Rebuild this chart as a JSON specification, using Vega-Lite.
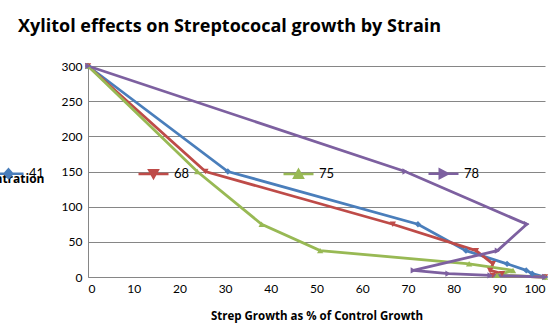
{
  "$schema": "https://vega.github.io/schema/vega-lite/v6.json",
  "width": 457,
  "height": 211,
  "autosize": {"type": "none"},
  "padding": {"left": 88, "top": 66, "right": 14, "bottom": 52},
  "background": "white",
  "config": {
    "font": "Lato",
    "view": {"stroke": null},
    "axis": {"labelFont": "Lato", "titleFont": "Open Sans", "labelColor": "#000", "titleColor": "#000"}
  },
  "title": {
    "text": "Xylitol effects on Streptococal growth by Strain",
    "anchor": "start",
    "frame": "group",
    "dx": -70,
    "baseline": "alphabetic",
    "offset": 10,
    "fontSize": 18,
    "fontWeight": "bold",
    "font": "Open Sans",
    "color": "#000"
  },
  "data": {
    "values": [
      {"s": "41", "i": 0, "x": 0, "y": 300},
      {"s": "41", "i": 1, "x": 30.6, "y": 150},
      {"s": "41", "i": 2, "x": 72.2, "y": 75},
      {"s": "41", "i": 3, "x": 82.7, "y": 37.5},
      {"s": "41", "i": 4, "x": 91.7, "y": 18.75},
      {"s": "41", "i": 5, "x": 95.9, "y": 9.4},
      {"s": "41", "i": 6, "x": 97.2, "y": 4.7},
      {"s": "41", "i": 7, "x": 100, "y": 0},
      {"s": "68", "i": 0, "x": 0, "y": 300},
      {"s": "68", "i": 1, "x": 25.7, "y": 150},
      {"s": "68", "i": 2, "x": 66.7, "y": 75},
      {"s": "68", "i": 3, "x": 84.9, "y": 37.5},
      {"s": "68", "i": 4, "x": 88.6, "y": 18.75},
      {"s": "68", "i": 5, "x": 88, "y": 9.4},
      {"s": "68", "i": 6, "x": 90.6, "y": 4.7},
      {"s": "68", "i": 7, "x": 88.5, "y": 2.3},
      {"s": "68", "i": 8, "x": 100, "y": 0},
      {"s": "75", "i": 0, "x": 0, "y": 300},
      {"s": "75", "i": 1, "x": 23.9, "y": 150},
      {"s": "75", "i": 2, "x": 38, "y": 75},
      {"s": "75", "i": 3, "x": 50.8, "y": 37.5},
      {"s": "75", "i": 4, "x": 83.4, "y": 18.75},
      {"s": "75", "i": 5, "x": 93, "y": 9.4},
      {"s": "75", "i": 6, "x": 89.5, "y": 2.3},
      {"s": "75", "i": 7, "x": 100, "y": 0},
      {"s": "78", "i": 0, "x": 0, "y": 300},
      {"s": "78", "i": 1, "x": 69.4, "y": 150},
      {"s": "78", "i": 2, "x": 96, "y": 75},
      {"s": "78", "i": 3, "x": 89.6, "y": 37.5},
      {"s": "78", "i": 4, "x": 71.2, "y": 9.4},
      {"s": "78", "i": 5, "x": 78.8, "y": 4.7},
      {"s": "78", "i": 6, "x": 88, "y": 2.3},
      {"s": "78", "i": 7, "x": 100, "y": 0}
    ]
  },
  "encoding": {
    "x": {
      "field": "x",
      "type": "quantitative",
      "scale": {"domain": [0, 100], "nice": false},
      "axis": {
        "values": [0, 10, 20, 30, 40, 50, 60, 70, 80, 90, 100],
        "grid": false,
        "ticks": false,
        "domainColor": "#868686",
        "labelFontSize": 12,
        "labelPadding": 6,
        "title": "Strep Growth as % of Control Growth",
        "titleFontSize": 11.5,
        "titleFontWeight": "bold",
        "titlePadding": 16
      }
    },
    "y": {
      "field": "y",
      "type": "quantitative",
      "scale": {"domain": [0, 300], "nice": false},
      "axis": {
        "values": [0, 50, 100, 150, 200, 250, 300],
        "grid": true,
        "gridColor": "#868686",
        "ticks": false,
        "domainColor": "#868686",
        "labelFontSize": 12,
        "labelPadding": 6,
        "title": "Xylitol Concentration",
        "titleAngle": 0,
        "titleAlign": "right",
        "titleBaseline": "middle",
        "titleX": -44,
        "titleY": 112,
        "titleFontSize": 12,
        "titleFontWeight": "bold"
      }
    },
    "color": {
      "field": "s",
      "type": "nominal",
      "scale": {"domain": ["41", "68", "75", "78"], "range": ["#4A7EBB", "#BE4B48", "#98B954", "#7D60A0"]},
      "legend": {
        "title": null,
        "orient": "none",
        "direction": "horizontal",
        "legendX": -96,
        "legendY": 91,
        "padding": 0,
        "columnPadding": 88,
        "symbolSize": 900,
        "symbolStrokeWidth": 2.5,
        "labelFontSize": 13,
        "labelOffset": 4,
        "labelFont": "Lato",
        "labelColor": "#000",
        "encode": {
          "symbols": {
            "update": {
              "shape": {"signal": "datum.value == '41' ? 'M-1,0H1M-0.25,0L0,-0.28L0.25,0L0,0.28Z' : datum.value == '68' ? 'M-1,0H1M-0.28,-0.25L0.28,-0.25L0,0.25Z' : datum.value == '75' ? 'M-1,0H1M-0.28,0.25L0.28,0.25L0,-0.25Z' : 'M-1,0H1M-0.25,-0.28L-0.25,0.28L0.28,0Z'"},
              "strokeWidth": {"value": 2.5},
              "opacity": {"value": 1}
            }
          }
        }
      }
    }
  },
  "layer": [
    {
      "mark": {"type": "line", "strokeWidth": 2.8},
      "encoding": {
        "order": {"field": "i", "type": "quantitative"}
      }
    },
    {
      "transform": [{"filter": "datum.s == '41'"}],
      "mark": {"type": "point", "filled": true, "size": 40, "opacity": 1, "shape": "diamond"}
    },
    {
      "transform": [{"filter": "datum.s == '68'"}],
      "mark": {"type": "point", "filled": true, "size": 40, "opacity": 1, "shape": "triangle-down"}
    },
    {
      "transform": [{"filter": "datum.s == '75'"}],
      "mark": {"type": "point", "filled": true, "size": 40, "opacity": 1, "shape": "triangle-up"}
    },
    {
      "transform": [{"filter": "datum.s == '78'"}],
      "mark": {"type": "point", "filled": true, "size": 40, "opacity": 1, "shape": "triangle-right"}
    }
  ]
}
